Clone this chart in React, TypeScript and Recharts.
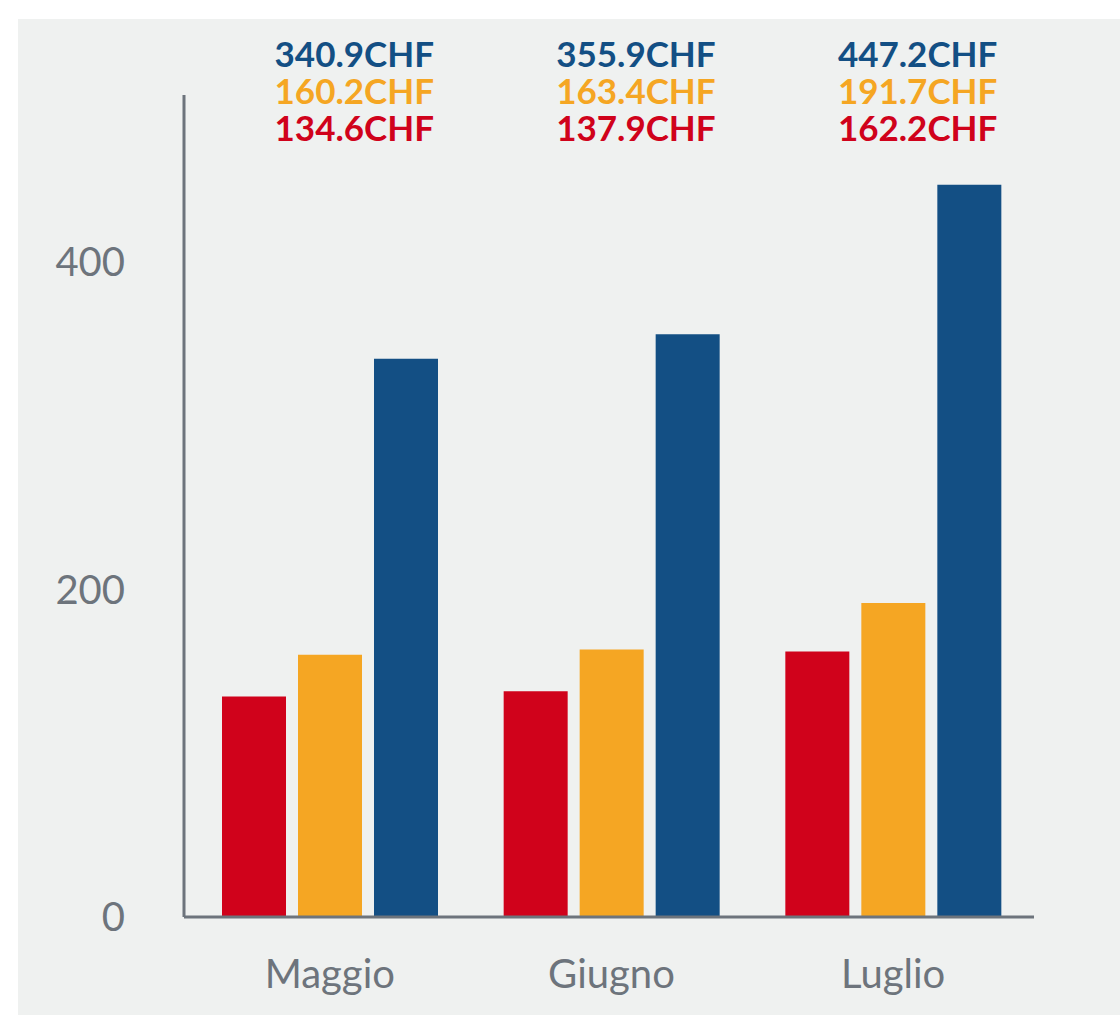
import React from 'react';
import { BarChart, Bar, XAxis, YAxis, LabelList } from 'recharts';

const months = ['Maggio', 'Giugno', 'Luglio'];
const redValues = [134.6, 137.9, 162.2];
const orangeValues = [160.2, 163.4, 191.7];
const blueValues = [340.9, 355.9, 447.2];
const yTicks = [0, 200, 400];

const RED = '#d0021b';
const ORANGE = '#f5a623';
const BLUE = '#134f84';
const GRAY = '#6d747c';

const data = months.map((m, i) => ({
  month: m,
  red: redValues[i],
  orange: orangeValues[i],
  blue: blueValues[i],
}));

const fmt = (v: number) => `${v.toFixed(1)}CHF`;

const TopLabels = (props: any) => {
  const { x, width, index } = props;
  const ax = Number(x) + Number(width) - 4;
  const rows = [
    { v: blueValues[index], c: BLUE, y: 53 },
    { v: orangeValues[index], c: ORANGE, y: 90 },
    { v: redValues[index], c: RED, y: 127 },
  ];
  return (
    <g>
      {rows.map((r, k) => (
        <text
          key={k}
          x={ax}
          y={r.y}
          fill={r.c}
          textAnchor="end"
          dominantBaseline="central"
          fontFamily="Lato, sans-serif"
          fontWeight={700}
          fontSize={35}
        >
          {fmt(r.v)}
        </text>
      ))}
    </g>
  );
};

export default function App() {
  return (
    <div style={{ position: 'absolute', left: 0, top: 0, width: 1120, height: 1015, background: '#ffffff' }}>
      <div style={{ position: 'absolute', left: 18, top: 19, width: 1102, height: 996, background: '#eff1f0' }} />
      <div style={{ position: 'absolute', left: 0, top: 0 }}>
        <BarChart
          width={1120}
          height={1015}
          data={data}
          margin={{ top: 95, right: 86, bottom: 38, left: 0 }}
          barSize={64}
          barGap={12}
        >
          <XAxis
            dataKey="month"
            axisLine={{ stroke: GRAY, strokeWidth: 3 }}
            tickLine={false}
            tickSize={0}
            tickMargin={43}
            height={60}
            padding={{ left: 5, right: 0 }}
            tick={{ fill: GRAY, fontSize: 40, fontFamily: 'Lato, sans-serif' }}
          />
          <YAxis
            width={184}
            domain={[0, 502]}
            ticks={yTicks}
            interval={0}
            axisLine={{ stroke: GRAY, strokeWidth: 3 }}
            tickLine={false}
            tickSize={0}
            tickMargin={59}
            tick={{ fill: GRAY, fontSize: 40, fontFamily: 'Lato, sans-serif' }}
          />
          <Bar dataKey="red" fill={RED} isAnimationActive={false} />
          <Bar dataKey="orange" fill={ORANGE} isAnimationActive={false} />
          <Bar dataKey="blue" fill={BLUE} isAnimationActive={false}>
            <LabelList dataKey="blue" content={TopLabels} />
          </Bar>
        </BarChart>
      </div>
    </div>
  );
}
